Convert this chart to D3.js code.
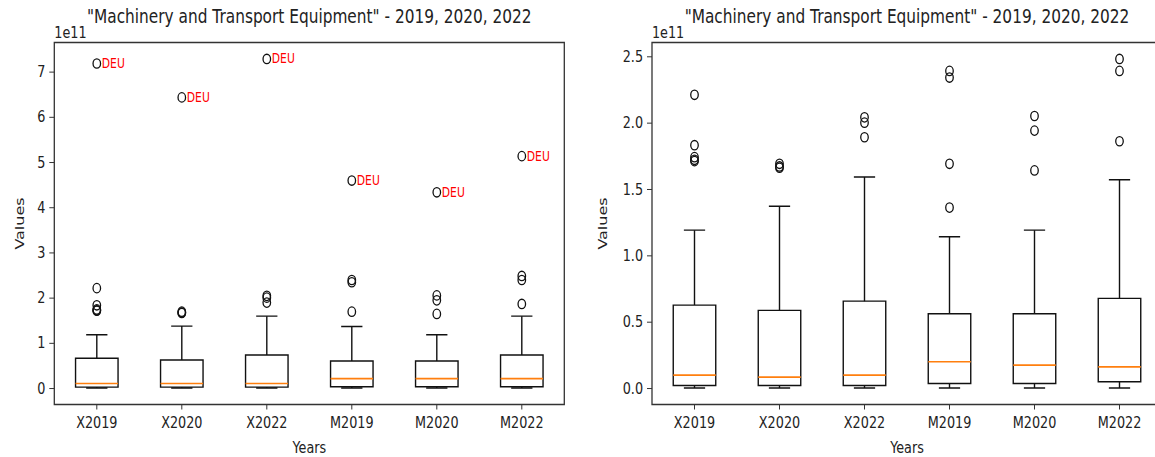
<!DOCTYPE html>
<html>
<head>
<meta charset="utf-8">
<script src="https://cdn.jsdelivr.net/npm/d3@7"></script>
<style>
  html, body { margin: 0; padding: 0; background: #ffffff; }
  svg { display: block; font-family: "DejaVu Sans", sans-serif; }
</style>
</head>
<body>
<svg id="chart" width="1155" height="457"></svg>
<script>
// Categories (exports X / imports M per year)
const categories = ["X2019", "X2020", "X2022", "M2019", "M2020", "M2022"];

// Values are in units of 1e11 (shown as the axis offset "1e11")
const OFFSET_LABEL = "1e11";

// Box statistics, all countries
const allWhiskerLow  = [0.00, 0.00, 0.00, 0.00, 0.00, 0.00];
const allQ1          = [0.020, 0.020, 0.020, 0.030, 0.030, 0.030];
const allMedian      = [0.100, 0.100, 0.100, 0.210, 0.210, 0.210];
const allQ3          = [0.658, 0.620, 0.730, 0.597, 0.597, 0.730];
const allWhiskerHigh = [1.18, 1.37, 1.59, 1.36, 1.18, 1.59];
const allFliers = [
  [2.21, 1.83, 1.74, 1.72, 1.71],
  [1.69, 1.67, 1.66],
  [2.04, 2.00, 1.89],
  [2.39, 2.34, 1.69],
  [2.05, 1.94, 1.64],
  [2.48, 2.39, 1.86]
];
// Largest outlier in each group, labelled with its country code
const deuLabel  = "DEU";
const deuValues = [7.18, 6.43, 7.28, 4.59, 4.33, 5.13];

// Box statistics, DEU excluded
const exWhiskerLow  = [0.00, 0.00, 0.00, 0.00, 0.00, 0.00];
const exQ1          = [0.019, 0.019, 0.019, 0.034, 0.034, 0.048];
const exMedian      = [0.097, 0.082, 0.097, 0.198, 0.173, 0.160];
const exQ3          = [0.625, 0.585, 0.655, 0.560, 0.560, 0.676];
const exWhiskerHigh = [1.19, 1.37, 1.59, 1.14, 1.19, 1.57];
const exFliers = [
  [2.21, 1.83, 1.74, 1.72, 1.71],
  [1.69, 1.67, 1.66],
  [2.04, 2.00, 1.89],
  [2.39, 2.34, 1.69, 1.36],
  [2.05, 1.94, 1.64],
  [2.48, 2.39, 1.86]
];

const leftTicks  = [0, 1, 2, 3, 4, 5, 6, 7];
const rightTicks = [0.0, 0.5, 1.0, 1.5, 2.0, 2.5];

const titleText = "\"Machinery and Transport Equipment\" - 2019, 2020, 2022";
const xLabel = "Years";
const yLabel = "Values";

// ---------------------------------------------------------------
const SX = 0.8;                 // horizontal squeeze of the whole figure
const X = px => px / SX;        // screen x -> drawing x
const TEXT = "#222";
const SPINE = "#333";
const FS_TICK = 16, FS_TITLE = 19.2, FS_NOTE = 13.5;

const svg = d3.select("#chart");
const root = svg.append("g").attr("transform", `scale(${SX},1)`);

function buildStats(q1, med, q3, lo, hi, fliers) {
  return categories.map((c, i) => ({
    cat: c, q1: q1[i], med: med[i], q3: q3[i], lo: lo[i], hi: hi[i], fliers: fliers[i]
  }));
}

function drawPanel(opt) {
  const { x0, x1, y0, y1, stats, labelled, ticks, tickFmt, ylabelX } = opt;
  const g = root.append("g");

  // autoscale with 5% margins, as for a default box plot
  const all = [];
  stats.forEach(s => { all.push(s.lo, s.hi, ...s.fliers); });
  if (labelled) all.push(...labelled);
  const mn = d3.min(all), mx = d3.max(all), pad = (mx - mn) * 0.05;

  const y = d3.scaleLinear().domain([mn - pad, mx + pad]).range([y1, y0]);
  const x = d3.scaleBand().domain(categories).range([X(x0), X(x1)])
    .paddingInner(0.5).paddingOuter(0.25);
  const bw = x.bandwidth();
  const cx = c => x(c) + bw / 2;

  // clip to the axes area
  const clipId = "clip" + Math.round(x0);
  g.append("clipPath").attr("id", clipId).append("rect")
    .attr("x", X(x0)).attr("y", y0).attr("width", X(x1) - X(x0)).attr("height", y1 - y0);
  const plot = g.append("g").attr("clip-path", `url(#${clipId})`);

  const line = (sel, a, b, c, d, col, w) => sel.append("line")
    .attr("x1", a).attr("y1", b).attr("x2", c).attr("y2", d)
    .attr("stroke", col).attr("stroke-width", w)
    .attr("vector-effect", "non-scaling-stroke");

  const marker = (c, v) => plot.append("circle").attr("cx", c).attr("cy", y(v)).attr("r", 4.7)
    .attr("fill", "none").attr("stroke", "#111").attr("stroke-width", 1.3)
    .attr("vector-effect", "non-scaling-stroke");

  stats.forEach(s => {
    const c = cx(s.cat);
    // whiskers
    line(plot, c, y(s.q3), c, y(s.hi), "#111", 1.4);
    line(plot, c, y(s.q1), c, y(s.lo), "#111", 1.4);
    line(plot, c - bw / 4, y(s.hi), c + bw / 4, y(s.hi), "#111", 1.4);
    line(plot, c - bw / 4, y(s.lo), c + bw / 4, y(s.lo), "#111", 1.4);
    // box
    plot.append("rect")
      .attr("x", x(s.cat)).attr("y", y(s.q3))
      .attr("width", bw).attr("height", y(s.q1) - y(s.q3))
      .attr("fill", "none").attr("stroke", "#111").attr("stroke-width", 1.4)
      .attr("vector-effect", "non-scaling-stroke");
    // median
    line(plot, x(s.cat), y(s.med), x(s.cat) + bw, y(s.med), "#ff7f0e", 1.7);
    // outliers
    s.fliers.forEach(v => marker(c, v));
  });

  if (labelled) {
    stats.forEach((s, i) => {
      const c = cx(s.cat), v = labelled[i];
      marker(c, v);
      g.append("text").attr("x", c + X(5)).attr("y", y(v) + 4.5)
        .attr("fill", "#ff0000").attr("font-size", FS_NOTE)
        .text(deuLabel);
    });
  }

  // x axis
  const ax = g.append("g").attr("transform", `translate(0,${y1})`)
    .call(d3.axisBottom(x).tickSize(5).tickPadding(7).tickSizeOuter(0));
  ax.select(".domain").remove();
  ax.selectAll(".tick line").attr("stroke", SPINE).attr("vector-effect", "non-scaling-stroke");
  ax.selectAll(".tick text").attr("fill", TEXT).attr("font-size", FS_TICK)
    .attr("font-family", "DejaVu Sans");

  // y axis
  const ay = g.append("g").attr("transform", `translate(${X(x0)},0)`)
    .call(d3.axisLeft(y).tickValues(ticks).tickFormat(tickFmt)
      .tickSize(X(5)).tickPadding(X(4)).tickSizeOuter(0));
  ay.select(".domain").remove();
  ay.selectAll(".tick line").attr("stroke", SPINE).attr("vector-effect", "non-scaling-stroke");
  ay.selectAll(".tick text").attr("fill", TEXT).attr("font-size", FS_TICK)
    .attr("font-family", "DejaVu Sans");

  // spines
  g.append("rect").attr("x", X(x0)).attr("y", y0)
    .attr("width", X(x1) - X(x0)).attr("height", y1 - y0)
    .attr("fill", "none").attr("stroke", SPINE).attr("stroke-width", 1.3)
    .attr("vector-effect", "non-scaling-stroke");

  // offset text, title, axis labels
  g.append("text").attr("x", X(x0)).attr("y", y0 - 4)
    .attr("fill", TEXT).attr("font-size", FS_TICK).text(OFFSET_LABEL);
  g.append("text").attr("x", X((x0 + x1) / 2)).attr("y", 23)
    .attr("text-anchor", "middle").attr("fill", TEXT).attr("font-size", FS_TITLE)
    .text(titleText);
  g.append("text").attr("x", X((x0 + x1) / 2)).attr("y", 453)
    .attr("text-anchor", "middle").attr("fill", TEXT).attr("font-size", FS_TICK)
    .text(xLabel);
  g.append("text")
    .attr("transform", `translate(${X(ylabelX)},${(y0 + y1) / 2}) rotate(-90)`)
    .attr("text-anchor", "middle").attr("fill", TEXT).attr("font-size", FS_TICK)
    .text(yLabel);
}

drawPanel({
  x0: 54.3, x1: 564.3, y0: 42.5, y1: 404.5,
  stats: buildStats(allQ1, allMedian, allQ3, allWhiskerLow, allWhiskerHigh, allFliers),
  labelled: deuValues, ticks: leftTicks, tickFmt: d3.format("d"), ylabelX: 24
});

drawPanel({
  x0: 652, x1: 1162, y0: 42.5, y1: 404.5,
  stats: buildStats(exQ1, exMedian, exQ3, exWhiskerLow, exWhiskerHigh, exFliers),
  labelled: null, ticks: rightTicks, tickFmt: d3.format(".1f"), ylabelX: 607
});
</script>
</body>
</html>
